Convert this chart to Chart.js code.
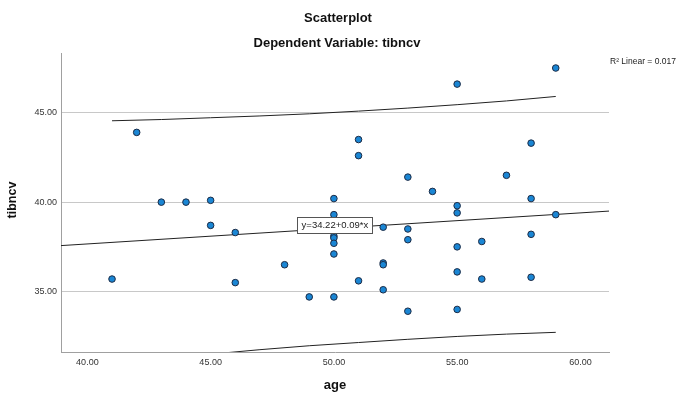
<!DOCTYPE html>
<html><head><meta charset="utf-8">
<script src="https://cdn.jsdelivr.net/npm/chart.js@4.4.1/dist/chart.umd.min.js"></script>
<style>html,body{margin:0;padding:0;background:#fff;}#wrap{width:678px;height:394px;}</style>
</head><body><div id="wrap"><canvas id="c" width="678" height="394"></canvas></div>
<script>
// ---- data ----
const ageValues    = [41, 42, 43, 44, 45, 45, 46, 46, 48, 49,
                      50, 50, 50, 50, 50, 50, 50,
                      51, 51, 51, 52, 52, 52, 52,
                      53, 53, 53, 53, 54,
                      55, 55, 55, 55, 55, 55, 56, 56, 57,
                      58, 58, 58, 58, 59, 59];
const tibncvValues = [35.7, 43.9, 40.0, 40.0, 40.1, 38.7, 38.3, 35.5, 36.5, 34.7,
                      34.7, 40.2, 39.3, 38.1, 38.0, 37.7, 37.1,
                      43.5, 42.6, 35.6, 38.6, 36.6, 36.5, 35.1,
                      41.4, 38.5, 37.9, 33.9, 40.6,
                      46.6, 39.8, 39.4, 37.5, 36.1, 34.0, 37.8, 35.7, 41.5,
                      43.3, 40.2, 38.2, 35.8, 47.5, 39.3];
const xTickValues = [40, 45, 50, 55, 60];
const yTickValues = [35, 40, 45];
const xRange = [38.93, 61.16];
const yRange = [31.62, 48.34];
const fitX = [38.93, 61.16];
const fitY = [37.57, 39.50];
const bandX     = [41, 43, 45, 47, 49, 51, 53, 55, 57, 59];
const bandUpper = [44.55, 44.62, 44.72, 44.82, 44.94, 45.09, 45.26, 45.45, 45.66, 45.91];
const bandLower = [30.95, 31.25, 31.50, 31.75, 31.97, 32.15, 32.33, 32.49, 32.62, 32.72];
const equationText = 'y=34.22+0.09*x';
const equationAt = [50.04, 38.73];
const r2Text = 'R\u00B2 Linear = 0.017';
const chartTitle = 'Scatterplot';
const chartSubtitle = 'Dependent Variable: tibncv';
const xTitle = 'age';
const yTitle = 'tibncv';

const FONT = '"Liberation Sans", Arial, sans-serif';
const pts = ageValues.map((a, i) => ({x: a, y: tibncvValues[i]}));
const fitPts = fitX.map((x, i) => ({x, y: fitY[i]}));
const upPts = bandX.map((x, i) => ({x, y: bandUpper[i]}));
const loPts = bandX.map((x, i) => ({x, y: bandLower[i]}));

const textPlugin = {
  id: 'texts',
  afterDatasetsDraw(chart) {
    const ctx = chart.ctx, xs = chart.scales.x, ys = chart.scales.y;
    ctx.save();
    ctx.font = '9.5px ' + FONT;
    const tw = ctx.measureText(equationText).width;
    const cx = xs.getPixelForValue(equationAt[0]);
    const cy = ys.getPixelForValue(equationAt[1]);
    const bw = Math.round(tw + 8), bh = 16;
    const bx = Math.round(cx - bw / 2) + 0.5, by = Math.round(cy - bh / 2) + 0.5;
    ctx.fillStyle = '#fff';
    ctx.fillRect(bx, by, bw, bh);
    ctx.strokeStyle = '#555';
    ctx.lineWidth = 1;
    ctx.strokeRect(bx, by, bw, bh);
    ctx.fillStyle = '#222';
    ctx.textAlign = 'center';
    ctx.textBaseline = 'middle';
    ctx.fillText(equationText, cx, cy + 0.5);
    ctx.restore();
  },
  afterDraw(chart) {
    const ctx = chart.ctx;
    ctx.save();
    ctx.fillStyle = '#111';
    ctx.textAlign = 'center';
    ctx.textBaseline = 'middle';
    ctx.font = 'bold 13px ' + FONT;
    ctx.fillText(chartTitle, 338, 18);
    ctx.fillText(chartSubtitle, 337, 43);
    ctx.fillText(xTitle, 335, 385);
    ctx.save();
    ctx.translate(13, 200);
    ctx.rotate(-Math.PI / 2);
    ctx.font = 'bold 12.5px ' + FONT;
    ctx.fillText(yTitle, 0, 0);
    ctx.restore();
    ctx.font = '8.5px ' + FONT;
    ctx.textAlign = 'left';
    ctx.fillStyle = '#222';
    ctx.fillText(r2Text, 610, 62);
    ctx.restore();
  }
};

new Chart(document.getElementById('c'), {
  type: 'scatter',
  data: {
    datasets: [
      { data: pts, pointRadius: 3.3, pointHoverRadius: 3.3, pointBackgroundColor: '#1a86d4',
        pointBorderColor: '#1c2b45', pointBorderWidth: 1, showLine: false },
      { data: fitPts, showLine: true, pointRadius: 0, borderColor: '#222', borderWidth: 1 },
      { data: upPts, showLine: true, pointRadius: 0, borderColor: '#222', borderWidth: 1, cubicInterpolationMode: 'monotone' },
      { data: loPts, showLine: true, pointRadius: 0, borderColor: '#222', borderWidth: 1, cubicInterpolationMode: 'monotone' }
    ]
  },
  options: {
    responsive: false,
    animation: false,
    devicePixelRatio: 1,
    layout: { padding: { top: 53, left: 0, right: 69, bottom: 0 } },
    plugins: { legend: { display: false }, tooltip: { enabled: false }, title: { display: false } },
    scales: {
      x: {
        type: 'linear', min: xRange[0], max: xRange[1],
        afterBuildTicks: s => { s.ticks = xTickValues.map(v => ({value: v})); },
        afterFit: s => { s.height = 42; },
        grid: { display: false, drawTicks: false },
        border: { display: true, color: '#a0a0a0', width: 1 },
        ticks: { color: '#333', font: { size: 9, family: FONT }, padding: 5, maxRotation: 0,
                 callback: v => Number(v).toFixed(2) }
      },
      y: {
        type: 'linear', min: yRange[0], max: yRange[1],
        afterBuildTicks: s => { s.ticks = yTickValues.map(v => ({value: v})); },
        afterFit: s => { s.width = 61; },
        grid: { display: true, color: '#c8c8c8', lineWidth: 1, drawTicks: false },
        border: { display: true, color: '#a0a0a0', width: 1 },
        ticks: { color: '#333', font: { size: 9, family: FONT }, padding: 4,
                 callback: v => Number(v).toFixed(2) }
      }
    }
  },
  plugins: [textPlugin]
});
</script></body></html>
